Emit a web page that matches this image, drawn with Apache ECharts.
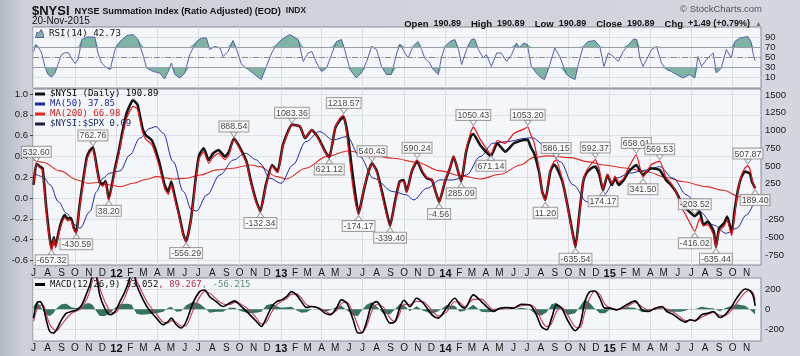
<!DOCTYPE html>
<html><head><meta charset="utf-8">
<script src="https://cdn.jsdelivr.net/npm/echarts@6/dist/echarts.min.js"></script>
<style>html,body{margin:0;padding:0;background:#d2d5dd;}#c{width:800px;height:356px;}</style>
</head><body><div id="c"></div>
<script>
// ---------- tick labels ----------
const monthTicks = ['2011-07','2011-08','2011-09','2011-10','2011-11','2011-12',
'2012-01','2012-02','2012-03','2012-04','2012-05','2012-06','2012-07','2012-08','2012-09','2012-10','2012-11','2012-12',
'2013-01','2013-02','2013-03','2013-04','2013-05','2013-06','2013-07','2013-08','2013-09','2013-10','2013-11','2013-12',
'2014-01','2014-02','2014-03','2014-04','2014-05','2014-06','2014-07','2014-08','2014-09','2014-10','2014-11','2014-12',
'2015-01','2015-02','2015-03','2015-04','2015-05','2015-06','2015-07','2015-08','2015-09','2015-10','2015-11'];
const rsiTicks = [10,30,50,70,90];
const leftTicks = [-0.6,-0.4,-0.2,0,0.2,0.4,0.6,0.8,1.0];
const rightTicks = [-750,-500,-250,0,250,500,750,1000,1250,1500];
const macdTicks = [-200,0,200];

// ---------- $NYSI (right axis) and $NYSI:$SPX ratio (left axis) ----------
const nysiDates = ['2011-07-01','2011-07-07','2011-07-14','2011-07-21','2011-07-29','2011-08-05','2011-08-10','2011-08-15','2011-08-19','2011-08-26','2011-09-01','2011-09-08','2011-09-15','2011-09-22','2011-09-28','2011-10-04','2011-10-11','2011-10-19','2011-10-27','2011-11-03','2011-11-10','2011-11-18','2011-11-25','2011-12-02','2011-12-08','2011-12-15','2011-12-29',
'2012-01-06','2012-01-13','2012-01-24','2012-02-07','2012-02-17','2012-02-28','2012-03-06','2012-03-20','2012-04-05','2012-04-17','2012-04-25','2012-05-02','2012-05-09','2012-05-21','2012-05-29','2012-06-04','2012-06-15','2012-06-26','2012-07-03','2012-07-13','2012-07-24','2012-08-03','2012-08-15','2012-08-29','2012-09-07','2012-09-18','2012-09-28','2012-10-16','2012-10-26','2012-11-07','2012-11-16','2012-11-28','2012-12-12','2012-12-24',
'2013-01-05','2013-01-25','2013-02-12','2013-02-23','2013-03-10','2013-03-25','2013-04-09','2013-04-18','2013-05-01','2013-05-12','2013-05-20','2013-05-29','2013-06-07','2013-06-15','2013-06-22','2013-07-03','2013-07-14','2013-07-22','2013-08-02','2013-08-13','2013-08-23','2013-08-31','2013-09-11','2013-09-21','2013-09-30','2013-10-07','2013-10-18','2013-10-30','2013-11-10','2013-11-21','2013-12-02','2013-12-10','2013-12-18','2013-12-31',
'2014-01-11','2014-01-19','2014-02-05','2014-02-16','2014-02-27','2014-03-04','2014-03-19','2014-04-12','2014-04-26','2014-05-14','2014-06-02','2014-06-24','2014-07-03','2014-07-09','2014-07-17','2014-07-28','2014-08-04','2014-08-11','2014-08-22','2014-08-30','2014-09-04','2014-09-18','2014-09-29','2014-10-10','2014-10-17','2014-10-26','2014-11-03','2014-11-10','2014-11-21','2014-11-30','2014-12-09','2014-12-17','2014-12-27',
'2015-01-06','2015-01-13','2015-01-21','2015-02-01','2015-02-12','2015-03-01','2015-03-16','2015-04-03','2015-04-22','2015-05-06','2015-05-17','2015-05-28','2015-06-12','2015-06-19','2015-07-09','2015-07-20','2015-07-28','2015-08-07','2015-08-20','2015-08-25','2015-09-01','2015-09-12','2015-09-19','2015-09-29','2015-10-06','2015-10-14','2015-10-21','2015-10-28','2015-11-04','2015-11-09','2015-11-13','2015-11-20'];
const nysiVals = [235,532.6,500,470,-80,-480,-657.3,-500,-620,-420,-280,-190,-240,-230,-360,-430.6,-60,300,615,720,762.8,500,270,240,290,38.2,474,
700,938,1250,1430,1360,1032,938,860,560,235,141,281,94,-233,-468,-556.3,-230,375,657,751,586,680,727,633,700,888.5,797,563,281,0,-132.3,235,516,422,
797,1083.4,1055,892,1008,892,703,621.1,1032,1150,1190,938,470,94,-170,141,422,540.4,422,141,-140,-339.4,0,281,305,141,422,572,422,329,305,141,-4.6,281,
470,633,285.1,703,930,950,797,640,821,703,821,868,870,774,681,422,141,24,422,520,492,281,-46,-422,-640,-140,281,399,470,492,375,160,375,
235,329,235,305,422,516,375,470,446,305,235,141,-46,-93,-203.5,-140,-328,-281,-420,-635.4,-375,-304,-211,-430,-100,200,352,422,410,390,281,190.89];
const ratioVals = [0.125,0.328,0.293,0.272,-0.118,-0.391,-0.508,-0.391,-0.48,-0.343,-0.248,-0.186,-0.22,-0.213,-0.302,-0.343,-0.097,0.149,0.361,0.436,0.47,0.286,0.135,0.115,0.149,-0.022,0.265,
0.416,0.573,0.772,0.881,0.854,0.635,0.566,0.512,0.306,0.094,0.033,0.128,0.005,-0.213,-0.364,-0.416,-0.207,0.197,0.382,0.443,0.334,0.395,0.43,0.368,0.416,0.572,0.498,0.334,0.142,-0.049,-0.126,0.115,0.306,0.245,
0.498,0.705,0.689,0.58,0.655,0.566,0.436,0.389,0.676,0.772,0.798,0.525,0.183,-0.049,-0.155,0.067,0.258,0.334,0.238,0.033,-0.159,-0.268,-0.049,0.149,0.163,0.053,0.258,0.368,0.265,0.197,0.176,0.06,-0.038,0.163,
0.293,0.402,0.159,0.464,0.642,0.683,0.566,0.423,0.553,0.525,0.621,0.662,0.685,0.614,0.532,0.279,0.06,-0.028,0.272,0.348,0.365,0.17,-0.077,-0.343,-0.47,-0.145,0.163,0.258,0.327,0.369,0.272,0.083,0.231,
0.142,0.211,0.149,0.19,0.293,0.414,0.198,0.32,0.354,0.197,0.142,0.06,-0.111,-0.164,-0.32,-0.196,-0.268,-0.255,-0.357,-0.47,-0.323,-0.268,-0.213,-0.363,-0.138,0.101,0.224,0.286,0.312,0.272,0.183,0.09];

// ---------- moving averages (right axis) ----------
const ma50Dates = ['2011-07-01','2011-07-22','2011-08-07','2011-08-25','2011-09-12','2011-10-01','2011-10-12','2011-11-03','2011-11-18','2011-12-02','2011-12-17',
'2012-01-09','2012-01-31','2012-02-22','2012-03-16','2012-03-29','2012-04-14','2012-05-06','2012-05-29','2012-06-16','2012-06-27','2012-07-20','2012-08-18','2012-09-17','2012-10-13','2012-11-08','2012-11-15','2012-12-07',
'2013-01-01','2013-01-27','2013-02-25','2013-03-27','2013-04-27','2013-05-27','2013-06-25','2013-07-25','2013-09-07','2013-10-07','2013-10-22','2013-11-21','2013-12-20',
'2014-01-19','2014-02-17','2014-03-19','2014-04-17','2014-05-17','2014-07-01','2014-07-11','2014-08-14','2014-09-13','2014-10-12','2014-11-11','2014-11-22','2014-12-18',
'2015-01-16','2015-02-14','2015-03-24','2015-04-22','2015-05-22','2015-06-21','2015-07-20','2015-08-19','2015-09-17','2015-10-10','2015-11-01','2015-11-20'];
const ma50Vals = [400,352,235,0,-163,-328,-375,-140,141,329,400,
432,657,892,1032,1055,962,563,141,-117,-131,94,375,586,681,586,540,329,
258,516,844,985,868,915,633,329,141,94,24,188,305,
305,375,633,821,844,892,900,774,563,235,0,-37,94,
329,400,446,492,329,94,-140,-328,-445,-375,-187,37.85];
const ma200Dates = ['2011-07-01','2011-07-22','2011-08-29','2011-10-06','2011-10-29','2011-11-28','2011-12-17',
'2012-01-09','2012-02-07','2012-03-08','2012-03-30','2012-05-06','2012-06-05','2012-07-05','2012-08-11','2012-09-16','2012-10-24','2012-11-15','2012-12-22',
'2013-01-12','2013-02-25','2013-04-12','2013-05-30','2013-07-17','2013-09-07','2013-10-29','2013-12-20',
'2014-02-03','2014-03-19','2014-05-03','2014-06-17','2014-07-15','2014-08-14','2014-10-06','2014-11-12','2014-12-18',
'2015-02-08','2015-03-24','2015-05-07','2015-06-13','2015-08-04','2015-09-10','2015-10-17','2015-11-20'];
const ma200Vals = [586,554,432,305,258,273,235,
211,258,315,352,319,329,375,446,470,516,492,352,
319,470,633,713,657,610,554,432,
366,319,385,516,619,643,619,563,516,
470,420,340,280,211,160,70,66.98];

// ---------- RSI(14) ----------
const rsiDates = ['2011-07-01','2011-07-06','2011-07-13','2011-07-19','2011-07-26','2011-08-02','2011-08-10','2011-08-17','2011-08-24','2011-09-01','2011-09-08','2011-09-16','2011-09-23','2011-10-01','2011-10-08','2011-10-16','2011-10-27','2011-11-14','2011-11-21','2011-11-29','2011-12-07','2011-12-18','2011-12-29',
'2012-01-09','2012-01-24','2012-02-07','2012-02-18','2012-03-01','2012-03-08','2012-03-23','2012-04-06','2012-04-17','2012-04-25','2012-05-02','2012-05-10','2012-05-21','2012-06-01','2012-06-12','2012-06-27','2012-07-08','2012-07-19','2012-07-26','2012-08-07','2012-08-18','2012-08-25','2012-09-05','2012-09-16','2012-09-24','2012-10-05','2012-10-20','2012-11-03','2012-11-18','2012-11-29','2012-12-11','2012-12-22',
'2013-01-02','2013-01-20','2013-02-08','2013-02-19','2013-03-02','2013-03-10','2013-03-21','2013-04-01','2013-04-12','2013-04-23','2013-05-04','2013-05-15','2013-05-22','2013-06-03','2013-06-17','2013-06-28','2013-07-10','2013-07-21','2013-08-01','2013-08-12','2013-08-23','2013-09-03','2013-09-15','2013-09-22','2013-10-03','2013-10-10','2013-10-21','2013-11-01','2013-11-09','2013-11-16','2013-11-27','2013-12-05','2013-12-16','2013-12-23','2013-12-31',
'2014-01-11','2014-01-22','2014-01-30','2014-02-06','2014-02-17','2014-02-28','2014-03-07','2014-03-15','2014-03-26','2014-04-02','2014-04-13','2014-04-25','2014-05-05','2014-05-17','2014-05-28','2014-06-08','2014-06-15','2014-06-24','2014-07-02','2014-07-11','2014-07-22','2014-08-02','2014-08-09','2014-08-21','2014-09-01','2014-09-12','2014-09-27','2014-10-08','2014-10-16','2014-10-23','2014-11-03','2014-11-14','2014-11-29','2014-12-10','2014-12-19','2014-12-29',
'2015-01-09','2015-01-20','2015-01-31','2015-02-12','2015-02-23','2015-03-02','2015-03-09','2015-03-16','2015-03-24','2015-04-04','2015-04-15','2015-04-26','2015-05-07','2015-05-18','2015-05-29','2015-06-13','2015-06-28','2015-07-09','2015-07-16','2015-07-24','2015-08-04','2015-08-19','2015-08-26','2015-09-06','2015-09-17','2015-09-28','2015-10-06','2015-10-17','2015-11-04','2015-11-11','2015-11-16','2015-11-20'];
const rsiVals = [61,75,68,58,31,15,10,17,35,55,58,59,48,37,45,85,90,90,58,38,31,25,65,
81,93,95,85,51,28,21,18,6,21,38,15,8,18,55,81,88,88,65,71,68,51,61,83,65,35,25,15,5,31,58,75,
85,95,85,41,58,61,38,21,28,55,81,85,65,25,8,18,41,71,65,31,15,15,58,76,58,48,71,81,65,48,38,25,15,48,71,
81,85,65,35,65,85,86,65,48,55,31,58,58,41,55,78,68,78,75,31,18,8,5,35,68,51,15,8,5,35,71,81,83,71,31,58,
51,41,61,75,86,85,48,31,45,65,71,38,25,21,15,8,15,8,51,31,45,58,18,28,65,48,81,88,91,80,55,42.73];

// ---------- MACD(12,26,9) ----------
const macdDates = ['2011-07-01','2011-07-08','2011-07-15','2011-07-22','2011-07-30','2011-08-06','2011-08-14','2011-08-21','2011-09-01','2011-09-12','2011-09-23','2011-10-05','2011-10-16','2011-10-27','2011-11-03','2011-11-10','2011-11-17','2011-11-25','2011-12-06','2011-12-18','2011-12-29',
'2012-01-09','2012-01-20','2012-01-27','2012-02-04','2012-02-09','2012-02-15','2012-02-26','2012-03-11','2012-03-30','2012-04-14','2012-04-25','2012-05-02','2012-05-13','2012-05-24','2012-06-04','2012-06-19','2012-07-04','2012-07-15','2012-07-26','2012-08-10','2012-08-25','2012-09-08','2012-09-20','2012-10-01','2012-10-20','2012-11-07','2012-11-18','2012-11-29','2012-12-11','2012-12-22',
'2013-01-02','2013-01-13','2013-01-24','2013-02-04','2013-02-15','2013-02-26','2013-03-10','2013-03-25','2013-04-08','2013-04-20','2013-05-04','2013-05-15','2013-05-27','2013-06-10','2013-06-21','2013-06-29','2013-07-10','2013-07-21','2013-08-01','2013-08-16','2013-08-31','2013-09-11','2013-09-22','2013-10-01','2013-10-14','2013-10-29','2013-11-13','2013-12-02','2013-12-16',
'2014-01-03','2014-01-22','2014-02-02','2014-02-13','2014-03-04','2014-03-22','2014-04-06','2014-04-17','2014-05-02','2014-05-17','2014-06-01','2014-06-19','2014-07-07','2014-07-22','2014-08-02','2014-08-14','2014-08-25','2014-09-05','2014-09-16','2014-10-01','2014-10-16','2014-10-27','2014-11-07','2014-11-18','2014-11-29','2014-12-10','2014-12-21',
'2015-01-01','2015-01-16','2015-02-07','2015-02-26','2015-03-14','2015-03-28','2015-04-12','2015-04-27','2015-05-08','2015-05-23','2015-06-07','2015-06-18','2015-06-29','2015-07-09','2015-07-24','2015-08-08','2015-08-19','2015-09-03','2015-09-14','2015-09-29','2015-10-10','2015-10-29','2015-11-09','2015-11-16','2015-11-20'];
const macdVals = [-90,60,76,26,-124,-224,-240,-207,-107,-40,-24,-7,43,160,243,340,330,143,10,-57,-24,
76,176,260,350,345,243,126,10,-90,-157,-124,-90,-157,-190,-124,60,176,193,126,76,26,60,83,43,-40,-124,-174,-90,26,76,
93,126,176,143,76,16,26,10,-40,-57,10,93,60,-107,-240,-240,-124,43,76,-24,-140,-124,20,90,26,110,60,-57,-90,
10,110,43,10,143,76,10,-24,10,16,10,50,43,-57,-174,-207,-90,43,10,-124,-217,-157,76,176,183,110,10,
10,-7,43,83,-7,-24,10,26,-24,-57,-107,-130,-107,-117,-57,-40,-24,-84,-57,26,110,203,183,126,33.052];
const signalVals = [-120,-10,36,41,-64,-154,-200,-217,-157,-95,-44,-17,13,100,183,300,350,213,80,-17,-39,
26,121,205,305,345,288,181,60,-50,-132,-139,-115,-132,-170,-164,-15,121,178,161,101,51,45,68,58,0,-89,-149,-130,-29,46,
78,106,151,153,111,46,26,15,-15,-47,-15,58,70,-42,-170,-230,-169,-27,46,21,-90,-124,-35,50,46,80,75,-12,-70,
-30,75,68,25,98,101,40,-4,0,11,12,35,43,-2,-109,-177,-140,-22,15,-69,-177,-187,-24,116,178,150,50,
15,-2,23,68,23,-9,0,18,1,-32,-82,-115,-112,-117,-82,-52,-32,-62,-65,-9,60,168,188,161,89.267];
const histVals = [30,70,40,-15,-60,-70,-40,10,50,55,20,10,30,60,60,40,-20,-70,-70,-40,15,
50,55,55,45,0,-45,-55,-50,-40,-25,15,25,-25,-20,40,75,55,15,-35,-25,-25,15,15,-15,-40,-35,-25,40,55,30,
15,20,25,-10,-35,-30,0,-5,-25,-10,25,35,-10,-65,-70,-10,45,70,30,-45,-50,0,55,40,-20,30,-15,-45,-20,
40,35,-25,-15,45,-25,-30,-20,10,5,-2,15,0,-55,-65,-30,50,65,-5,-55,-40,30,100,60,5,-40,-40,
-5,-5,20,15,-30,-15,10,8,-25,-25,-25,-15,5,0,25,12,8,-22,8,35,50,35,-5,-35,-56.215];

// ---------- peak / trough annotations (right axis) ----------
const annDates = ['2011-07-07','2011-11-10','2011-12-15','2011-10-04','2011-08-10','2012-06-04','2012-09-18','2012-11-16','2013-01-25','2013-05-20','2013-04-18','2013-06-22','2013-07-22','2013-08-31','2013-10-30','2013-12-18','2014-02-05','2014-03-04','2014-04-12','2014-07-03','2014-08-11','2014-09-04','2014-10-17','2014-11-30','2014-12-17','2015-03-01','2015-03-16','2015-04-22','2015-07-09','2015-07-09','2015-08-25','2015-11-04','2015-11-20'];
const annVals = [532.60,762.76,38.20,-430.59,-657.32,-556.29,888.54,-132.34,1083.36,1218.57,621.12,-174.17,540.43,-339.40,590.24,-4.56,285.09,1050.43,671.14,1053.20,11.20,586.15,-635.54,592.37,174.17,658.01,341.50,569.53,-203.52,-416.02,-635.44,507.87,189.40];
const annPos = ['top','top','bottom','bottom','bottom','bottom','top','bottom','top','top','bottom','bottom','top','bottom','top','bottom','bottom','top','bottom','top','bottom','top','bottom','top','bottom','top','bottom','top','top','bottom','bottom','top','bottom'];

// ---------- helpers ----------
const DAY = 86400000;
function ts(s){ const p = s.split('-').map(Number); return new Date(p[0], p[1]-1, p[2]||1).getTime(); }
function pairs(dates, vals){ return dates.map((d,i)=>[ts(d), vals[i]]); }
const monthTs = monthTicks.map(ts);
const quarterTs = monthTicks.filter(m => ['01','04','07','10'].includes(m.slice(5))).map(ts);
const xMin = ts('2011-07-01') - 1.3*DAY;
const xMax = xMin + 1617.4*DAY;
const FONT = 'Liberation Sans, Arial, sans-serif';
const MONO = 'DejaVu Sans Mono, monospace';
function monthFmt(v){ const d = new Date(v); const m = d.getMonth();
  return m === 0 ? '{y|' + String(d.getFullYear()).slice(2) + '}' : 'JFMAMJJASOND'.charAt(m); }
function makeX(gi, showLabel, margin){
  return { type:'value', gridIndex: gi, min: xMin, max: xMax, scale:true,
    axisLine:{show:false}, axisTick:{show:false, customValues: quarterTs},
    splitLine:{show:true, lineStyle:{color:'#d9dde5', width:1}},
    axisLabel:{show: showLabel, customValues: monthTs, formatter: monthFmt, color:'#1a1a1a',
      fontSize:10, fontFamily: FONT, margin: margin, rich:{y:{fontSize:11, fontWeight:'bold', color:'#111', fontFamily: FONT}}}};
}
const gridBase = {show:true, borderColor:'#868b96', borderWidth:1, backgroundColor:'#f4f6f9', outerBoundsMode:'none', containLabel:false};
const yLab = {color:'#1a1a1a', fontSize:9.5, fontFamily: FONT, formatter: v => String(v)};
const legendVals = {'$NYSI (Daily)':'190.89','MA(50)':'37.85','MA(200)':'66.98','$NYSI:$SPX':'0.09'};
const lineBase = {type:'line', showSymbol:false, symbol:'none', animation:false};

const rsiPairs = pairs(rsiDates, rsiVals);

const option = {
  animation:false,
  backgroundColor:{type:'linear', x:0, y:0, x2:1, y2:0, colorStops:[{offset:0,color:'#b4b9c6'},{offset:0.03,color:'#cdd0d9'},{offset:1,color:'#d4d7df'}]},
  textStyle:{fontFamily: FONT},
  title:[
    {left:32, top:2, padding:0, text:'{a|$NYSI} {b|NYSE Summation Index (Ratio Adjusted) (EOD)} {c|INDX}',
      textStyle:{rich:{a:{fontSize:13, fontWeight:'bold', color:'#111', fontFamily:FONT},
        b:{fontSize:9.2, color:'#111', fontFamily:FONT}, c:{fontSize:8.5, fontWeight:'bold', color:'#222', fontFamily:FONT}}}},
    {left:32, top:16, padding:0, text:'20-Nov-2015', textStyle:{fontSize:10, fontWeight:'normal', color:'#111', fontFamily:FONT}},
    {right:38, top:4, padding:0, text:'© StockCharts.com', textStyle:{fontSize:9.5, fontWeight:'normal', color:'#555', fontFamily:FONT}},
    {right:38, top:15, padding:0, text:'{k|Open} {v|190.89}  {k|High} {v|190.89}  {k|Low} {v|190.89}  {k|Close} {v|190.89}  {k|Chg} {v|+1.49 (+0.79%)} {t|▲}',
      textStyle:{rich:{k:{fontSize:9.5, fontWeight:'bold', color:'#111', fontFamily:FONT}, v:{fontSize:9, color:'#111', fontFamily:FONT}, t:{fontSize:7, color:'#777'}}}}
  ],
  legend:[
    {left:35, top:29, padding:0, selectedMode:false, itemWidth:9, itemHeight:8, itemGap:0,
      data:[{name:'RSI(14)', icon:'path://M0,10L2,3L4,5L7,0L10,6L10,10Z', itemStyle:{color:'#7db4a4', borderColor:'#5563a8', borderWidth:1}}],
      formatter: n => n + ' 42.73', textStyle:{fontFamily:MONO, fontSize:9.2, color:'#111'}},
    {left:35, top:89, padding:0, orient:'vertical', selectedMode:false, itemGap:0, itemWidth:10, itemHeight:3, icon:'rect',
      data:[{name:'$NYSI (Daily)', textStyle:{color:'#000'}}, {name:'MA(50)', textStyle:{color:'#1e2ca0'}},
            {name:'MA(200)', textStyle:{color:'#d82020'}}, {name:'$NYSI:$SPX', itemStyle:{color:'#1a2040'}, textStyle:{color:'#1a2a60'}}],
      formatter: n => n + ' ' + legendVals[n], textStyle:{fontFamily:MONO, fontSize:9, lineHeight:10}},
    {left:35, top:280, padding:0, selectedMode:false, itemWidth:10, itemHeight:3, icon:'rect',
      data:[{name:'MACD(12,26,9)', itemStyle:{color:'#000'}}],
      formatter: n => n + ' {a|33.052}{b|, 89.267}{c|, -56.215}',
      textStyle:{fontFamily:MONO, fontSize:9, color:'#111', rich:{a:{fontFamily:MONO, fontSize:9, color:'#111'}, b:{fontFamily:MONO, fontSize:9, color:'#c0304e'}, c:{fontFamily:MONO, fontSize:9, color:'#5b8a86'}}}}
  ],
  grid:[
    Object.assign({left:33, top:27, width:728, height:61}, gridBase),
    Object.assign({left:33, top:89, width:728, height:176}, gridBase),
    Object.assign({left:33, top:278, width:728, height:63}, gridBase)
  ],
  xAxis:[ makeX(0, false, 3), makeX(1, true, 3), makeX(2, true, 2) ],
  yAxis:[
    {type:'value', gridIndex:0, min:-12, max:110, position:'right', axisLine:{show:false},
      axisTick:{show:false, customValues: rsiTicks}, axisLabel:Object.assign({}, yLab, {customValues: rsiTicks, margin:4}),
      splitLine:{show:true, lineStyle:{color:'#dde0e7'}}},
    {type:'value', gridIndex:1, min:-0.644, max:1.048, position:'left', axisLine:{show:false},
      axisTick:{show:true, length:3, customValues: leftTicks, lineStyle:{color:'#444'}},
      axisLabel:Object.assign({}, yLab, {customValues: leftTicks, margin:5, formatter: v => v.toFixed(1)}),
      splitLine:{show:true, lineStyle:{color:'#dde0e7'}}},
    {type:'value', gridIndex:1, min:-891, max:1584, position:'right', axisLine:{show:false},
      axisTick:{show:false, customValues: rightTicks}, axisLabel:Object.assign({}, yLab, {customValues: rightTicks, margin:4}),
      splitLine:{show:false}},
    {type:'value', gridIndex:2, min:-320, max:313, position:'right', axisLine:{show:false},
      axisTick:{show:false, customValues: macdTicks}, axisLabel:Object.assign({}, yLab, {customValues: macdTicks, margin:4}),
      splitLine:{show:true, lineStyle:{color:'#dde0e7'}}}
  ],
  series:[
    Object.assign({}, lineBase, {name:'rsiHi', xAxisIndex:0, yAxisIndex:0, data: rsiPairs.map(p=>[p[0], Math.max(p[1],70)]),
      lineStyle:{width:0}, areaStyle:{origin:70, color:'#7db4a4', opacity:1}, z:1}),
    Object.assign({}, lineBase, {name:'rsiLo', xAxisIndex:0, yAxisIndex:0, data: rsiPairs.map(p=>[p[0], Math.min(p[1],30)]),
      lineStyle:{width:0}, areaStyle:{origin:30, color:'#7db4a4', opacity:1}, z:1}),
    Object.assign({}, lineBase, {name:'RSI(14)', xAxisIndex:0, yAxisIndex:0, data: rsiPairs, color:'#5563a8',
      lineStyle:{width:1, color:'#5563a8'}, z:3,
      markLine:{silent:true, symbol:'none', label:{show:false}, animation:false,
        data:[{yAxis:70, lineStyle:{color:'#9a9ea6', type:'solid', width:1}},
              {yAxis:30, lineStyle:{color:'#9a9ea6', type:'solid', width:1}},
              {yAxis:50, lineStyle:{color:'#888', type:[6,2,1,2], width:1}}]}}),
    Object.assign({}, lineBase, {name:'MA(200)', xAxisIndex:1, yAxisIndex:2, data: pairs(ma200Dates, ma200Vals), color:'#e02a22',
      smooth:0.35, smoothMonotone:'x', lineStyle:{width:1.1, color:'#e02a22'}, z:2}),
    Object.assign({}, lineBase, {name:'MA(50)', xAxisIndex:1, yAxisIndex:2, data: pairs(ma50Dates, ma50Vals), color:'#1e2ca0',
      smooth:0.35, smoothMonotone:'x', lineStyle:{width:1, color:'#1e2ca0'}, z:2}),
    Object.assign({}, lineBase, {name:'$NYSI (Daily)', xAxisIndex:1, yAxisIndex:2, data: pairs(nysiDates, nysiVals), color:'#111',
      smooth:0.15, lineStyle:{width:2.6, color:'#151515'}, z:3}),
    Object.assign({}, lineBase, {name:'$NYSI:$SPX', xAxisIndex:1, yAxisIndex:1, data: pairs(nysiDates, ratioVals), color:'#e8141c',
      smooth:0.15, lineStyle:{width:1.2, color:'#e8141c'}, z:4}),
    {type:'scatter', xAxisIndex:1, yAxisIndex:2, z:10, silent:true, animation:false,
      symbol:'triangle', symbolSize:[7,5],
      itemStyle:{color:'#fff', borderColor:'#8a8a8a', borderWidth:1},
      label:{show:true, distance:0, formatter: p => p.value[1].toFixed(2), backgroundColor:'#fff', borderColor:'#8a8a8a', borderWidth:1,
        padding:[1,1,0,1], fontSize:8.8, lineHeight:9, color:'#111', fontFamily:FONT},
      data: annDates.map((d,i)=>({value:[ts(d), annVals[i]], symbolRotate: annPos[i]==='top'?180:0,
        symbolOffset:[0, annPos[i]==='top'?-4:4], label:{position: annPos[i]}}))},
    Object.assign({}, lineBase, {name:'hist', xAxisIndex:2, yAxisIndex:3, data: pairs(macdDates, histVals),
      lineStyle:{width:0}, areaStyle:{color:'#33735f', opacity:1}, z:1}),
    Object.assign({}, lineBase, {name:'signal', xAxisIndex:2, yAxisIndex:3, data: pairs(macdDates, signalVals), color:'#c8385a',
      smooth:0.3, lineStyle:{width:1.1, color:'#c8385a'}, z:2}),
    Object.assign({}, lineBase, {name:'MACD(12,26,9)', xAxisIndex:2, yAxisIndex:3, data: pairs(macdDates, macdVals), color:'#000',
      smooth:0.3, lineStyle:{width:1.6, color:'#000'}, z:3})
  ]
};
const chart = echarts.init(document.getElementById('c'), null, {renderer:'canvas'});
chart.setOption(option);
</script></body></html>
